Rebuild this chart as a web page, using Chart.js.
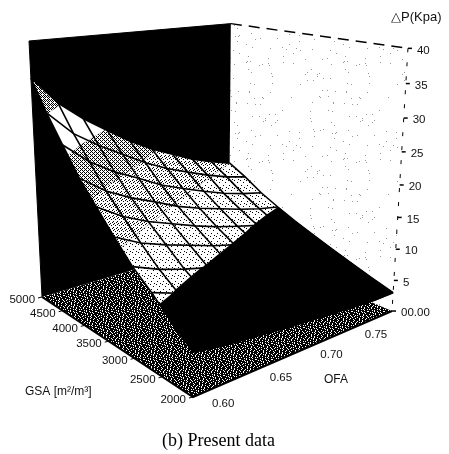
<!DOCTYPE html>
<html>
<head>
<meta charset="utf-8">
<style>
  body { margin: 0; background: #fff; }
  canvas { display: block; }
</style>
<script src="https://cdn.jsdelivr.net/npm/chart.js@4"></script>
</head>
<body>
<canvas id="chart" width="449" height="454"></canvas>
<script>
const ofa = [0.60, 0.62, 0.64, 0.66, 0.68, 0.70, 0.72, 0.74, 0.76, 0.78];
const gsa = [2000, 2333, 2667, 3000, 3333, 3667, 4000, 4333, 4667, 5000];
// deltaP[gsa index][ofa index]
const deltaP = [
  [6.1, 5.4, 5.0, 4.6, 4.2, 3.9, 3.6, 3.3, 3.0, 3.0],
  [8.4, 7.4, 6.8, 6.2, 5.7, 5.2, 4.8, 4.5, 4.2, 4.0],
  [11.0, 9.7, 8.8, 8.1, 7.3, 6.7, 6.2, 5.8, 5.4, 5.1],
  [13.2, 11.7, 10.6, 9.7, 8.8, 8.1, 7.6, 7.0, 6.5, 6.2],
  [16.1, 14.2, 12.9, 11.8, 10.7, 9.8, 9.1, 8.4, 7.8, 7.4],
  [19.2, 16.9, 15.2, 13.9, 12.6, 11.5, 10.6, 9.8, 9.1, 8.6],
  [22.3, 19.6, 17.7, 16.2, 14.6, 13.4, 12.4, 11.4, 10.6, 10.0],
  [26.2, 23.0, 20.7, 18.9, 17.0, 15.6, 14.3, 13.1, 12.2, 11.5],
  [30.1, 26.4, 23.9, 21.8, 19.7, 18.0, 16.6, 15.3, 14.2, 13.4],
  [34.6, 30.3, 27.3, 24.8, 22.4, 20.4, 18.8, 17.2, 16.0, 15.0]
];
const zTicks = [0, 5, 10, 15, 20, 25, 30, 35, 40];
const gsaTicks = [2000, 2500, 3000, 3500, 4000, 4500, 5000];
const ofaTicks = [0.60, 0.65, 0.70, 0.75];
const bandLimits = [0, 10, 15, 20, 25, 30, 35, 40];

const ofaMin = ofa[0], ofaMax = ofa[ofa.length - 1];
const gsaMin = gsa[0], gsaMax = gsa[gsa.length - 1];
const zMax = zTicks[zTicks.length - 1];

// perspective camera, fitted to the box corners
function project(o, g, z) {
  const u = (o - ofaMin) / (ofaMax - ofaMin);
  const v = (g - gsaMin) / (gsaMax - gsaMin);
  const w = z / zMax;
  const h = 1 + 0.2285 * u + 0.2634 * v - 0.095 * w;
  return {
    x: (193 + 288.6 * u - 139.9 * v - 19.18 * w) / h,
    y: (397 - 14.9 * u - 21.8 * v - 327.3 * w) / h
  };
}

function tile(rows) {
  const c = document.createElement("canvas");
  c.width = rows[0].length;
  c.height = rows.length;
  const g = c.getContext("2d");
  g.fillStyle = "#fff";
  g.fillRect(0, 0, c.width, c.height);
  g.fillStyle = "#000";
  rows.forEach((r, y) => [...r].forEach((ch, x) => { if (ch === "#") g.fillRect(x, y, 1, 1); }));
  return g.createPattern(c, "repeat");
}

function speckTile(n) {
  const c = document.createElement("canvas");
  c.width = c.height = n;
  const g = c.getContext("2d");
  g.fillStyle = "#fff";
  g.fillRect(0, 0, n, n);
  g.fillStyle = "#999";
  for (let y = 0; y < n; y++) {
    for (let x = 0; x < n; x++) {
      if ((x * x * 3 + y * y * 5 + x * y) % n < 2) g.fillRect(x, y, 1, 1);
    }
  }
  return g.createPattern(c, "repeat");
}

const bandFills = [
  "#000",
  tile(["......", ".#....", "......", "....#.", "#.....", "......", "...#..", "......"]),
  tile(["#...", "..#.", ".#..", "...#", "....", ".#.."]),
  tile(["#.#.", ".#..", "#.#.", "...#"]),
  "#fff",
  tile(["#.#.", ".#.#", "#...", ".#.#"]),
  tile(["#.#.", ".#.#"])
];
const floorFill = tile([
  "##.####.##.#####",
  "#.###.####.##.##",
  "####.##.#.#####.",
  ".##.#####.##.###",
  "###.##.#####.###",
  "#.#######.#.###.",
  "####.#.#####.###",
  ".#####.##.#####.",
  "##.#.#####.#.###",
  "#####.#.#####.##",
  "#.#####.###.####",
  "###.#.#####.##.#",
  "##.#####.#.####.",
  ".####.#####.####",
  "###.###.##.###.#",
  "#.#####.#####.##"
]);

function polygon(points, fill) {
  return {
    data: points, showLine: true, fill: "shape", backgroundColor: fill,
    borderColor: fill === "#000" ? "#000" : "transparent", borderWidth: fill === "#000" ? 1 : 0,
    pointRadius: 0, tension: 0
  };
}

function stroke(points, width, dash) {
  return {
    data: points, showLine: true, fill: false, borderColor: "#000", borderWidth: width,
    borderDash: dash || [], pointRadius: 0, tension: 0
  };
}

// cut one cell to the part between two pressure levels
function clipLevel(poly, level, keepAbove) {
  const out = [];
  poly.forEach((p, i) => {
    const q = poly[(i + 1) % poly.length];
    const pIn = keepAbove ? p.z >= level : p.z <= level;
    const qIn = keepAbove ? q.z >= level : q.z <= level;
    if (pIn) out.push(p);
    if (pIn !== qIn) {
      const t = (level - p.z) / (q.z - p.z);
      out.push({ o: p.o + (q.o - p.o) * t, g: p.g + (q.g - p.g) * t, z: level });
    }
  });
  return out;
}

const sets = [];

// walls and floor
sets.push(polygon([project(ofaMin, gsaMax, 0), project(ofaMin, gsaMax, zMax), project(ofaMax, gsaMax, zMax), project(ofaMax, gsaMax, 0)], "#000"));
sets.push(polygon([project(ofaMax, gsaMax, 0), project(ofaMax, gsaMax, zMax), project(ofaMax, gsaMin, zMax), project(ofaMax, gsaMin, 0)], speckTile(97)));
sets.push(polygon([project(ofaMin, gsaMin, 0), project(ofaMax, gsaMin, 0), project(ofaMax, gsaMax, 0), project(ofaMin, gsaMax, 0)], floorFill));
sets.push(stroke([project(ofaMax, gsaMax, zMax), project(ofaMax, gsaMin, zMax)], 1.5, [11, 7]));
sets.push(stroke([project(ofaMax, gsaMin, zMax), project(ofaMax, gsaMin, 0)], 1, [4, 10]));
sets.push(stroke([project(ofaMin, gsaMax, 0), project(ofaMin, gsaMin, 0), project(ofaMax, gsaMin, 0)], 2));

// surface cells, back to front
for (let k = gsa.length - 2; k >= 0; k--) {
  for (let j = ofa.length - 2; j >= 0; j--) {
    const cell = [
      { o: ofa[j], g: gsa[k], z: deltaP[k][j] },
      { o: ofa[j + 1], g: gsa[k], z: deltaP[k][j + 1] },
      { o: ofa[j + 1], g: gsa[k + 1], z: deltaP[k + 1][j + 1] },
      { o: ofa[j], g: gsa[k + 1], z: deltaP[k + 1][j] }
    ];
    for (let b = 0; b < bandLimits.length - 1; b++) {
      let part = clipLevel(cell, bandLimits[b], true);
      if (part.length) part = clipLevel(part, bandLimits[b + 1], false);
      if (part.length > 2) sets.push(polygon(part.map(p => project(p.o, p.g, p.z)), bandFills[b]));
    }
  }
}

// mesh lines
gsa.forEach((g, k) => sets.push(stroke(ofa.map((o, j) => project(o, g, deltaP[k][j])), 1.6)));
ofa.forEach((o, j) => sets.push(stroke(gsa.map((g, k) => project(o, g, deltaP[k][j])), 1.6)));

// tick marks
zTicks.forEach(z => {
  const p = project(ofaMax, gsaMin, z);
  sets.push(stroke([p, { x: p.x + 4, y: p.y }], 1.5));
});
gsaTicks.forEach(g => {
  const p = project(ofaMin, g, 0);
  sets.push(stroke([p, { x: p.x - 4, y: p.y + 1 }], 1));
});

const labelsPlugin = {
  id: "labels",
  afterDraw(chart) {
    const c = chart.ctx;
    c.save();
    c.fillStyle = "#111";
    c.textBaseline = "middle";
    c.font = "11.5px 'Liberation Sans'";
    c.textAlign = "left";
    zTicks.forEach(z => {
      const p = project(ofaMax, gsaMin, z);
      c.fillText(z === 0 ? "00.00" : String(z), p.x + 9, p.y + 2);
    });
    ofaTicks.forEach(o => {
      const u = (o - ofaMin) / (ofaMax - ofaMin);
      const p = project(o, gsaMin, 0);
      c.fillText(o.toFixed(2), p.x + 19 - 22 * u, p.y + 7 + 6 * u);
    });
    c.textAlign = "right";
    gsaTicks.forEach(g => {
      const p = project(ofaMin, g, 0);
      c.fillText(String(g), p.x - 7, p.y + 3);
    });
    c.textAlign = "left";
    c.font = "12px 'Liberation Sans'";
    c.fillText("GSA [m²/m³]", 25, 392);
    c.fillText("OFA", 324, 380);
    c.font = "13px 'Liberation Sans'";
    c.fillText("△P(Kpa)", 391, 17);
    c.fillStyle = "#000";
    c.font = "18px 'Liberation Serif'";
    c.fillText("(b) Present data", 162, 441);
    c.restore();
  }
};

new Chart(document.getElementById("chart"), {
  type: "scatter",
  data: { datasets: sets.reverse() },
  options: {
    responsive: false,
    animation: false,
    layout: { padding: 0 },
    plugins: { legend: { display: false }, tooltip: { enabled: false } },
    scales: {
      x: { type: "linear", min: 0, max: 449, display: false },
      y: { type: "linear", min: 0, max: 454, reverse: true, display: false }
    }
  },
  plugins: [labelsPlugin]
});
</script>
</body>
</html>
